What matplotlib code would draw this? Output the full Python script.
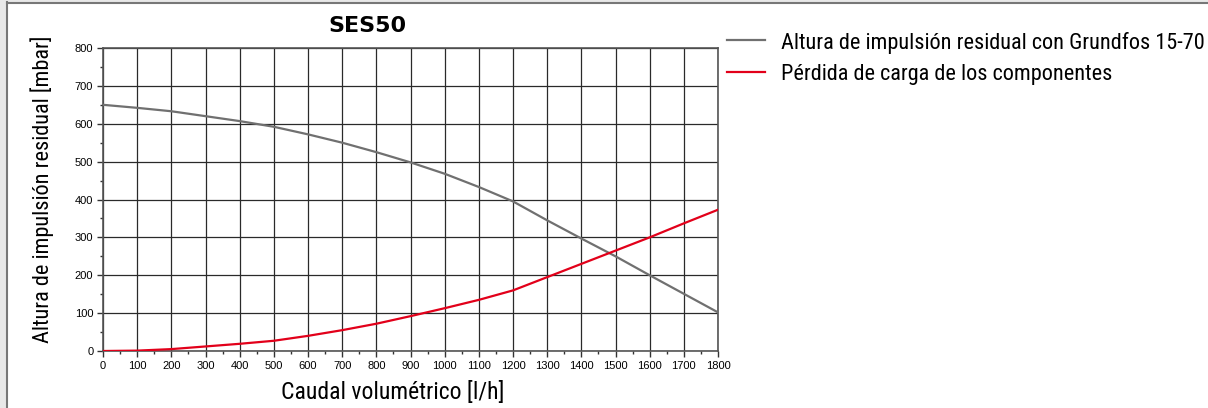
import matplotlib
matplotlib.use("Agg")
import matplotlib.pyplot as plt
from matplotlib.lines import Line2D
from matplotlib.patches import Rectangle
from matplotlib.ticker import MultipleLocator

flow = [0, 100, 200, 300, 400, 500, 600, 700, 800, 900, 1000, 1100, 1200,
        1300, 1400, 1500, 1600, 1700, 1800]
residual_head = [650, 642, 633, 620, 607, 592, 572, 550, 525, 498, 468, 433, 395,
                 345, 297, 250, 200, 151, 102]
pressure_loss = [0, 1, 5, 12, 19, 27, 40, 55, 72, 92, 113, 135, 160,
                 195, 230, 265, 300, 337, 373]

title = "SES50"
xlabel = "Caudal volumétrico [l/h]"
ylabel = "Altura de impulsión residual [mbar]"
series_labels = ["Altura de impulsión residual con Grundfos 15-70",
                 "Pérdida de carga de los componentes"]
series_colors = ['#707070', '#e2001a']

narrow = ['Roboto Condensed', 'Liberation Sans Narrow', 'Roboto', 'DejaVu Sans']

W, H = 1208, 408
fig = plt.figure(figsize=(W / 100, H / 100), dpi=100)
fig.patch.set_facecolor('white')

# frame remnants (left/top border)
fig.patches.append(Rectangle((0, 0), 6 / W, 1, transform=fig.transFigure,
                             facecolor='#e8e8e8', edgecolor='none', zorder=0))
fig.patches.append(Rectangle((0, 1 - 2 / H), 1, 2 / H, transform=fig.transFigure,
                             facecolor='#e8e8e8', edgecolor='none', zorder=0))
fig.lines.append(Line2D([7 / W, 7 / W], [0, 1 - 2 / H], transform=fig.transFigure,
                        color='#777777', lw=1.5))
fig.lines.append(Line2D([7 / W, 1], [1 - 2.5 / H, 1 - 2.5 / H], transform=fig.transFigure,
                        color='#777777', lw=1.5))

ax = fig.add_axes([103 / W, 1 - 351 / H, 615 / W, 303 / H])
ax.plot(flow, residual_head, color=series_colors[0], lw=1.6, zorder=3)
ax.plot(flow, pressure_loss, color=series_colors[1], lw=1.6, zorder=3)

ax.set_xlim(0, 1800)
ax.set_ylim(0, 800)
ax.xaxis.set_major_locator(MultipleLocator(100))
ax.xaxis.set_minor_locator(MultipleLocator(50))
ax.yaxis.set_major_locator(MultipleLocator(100))
ax.yaxis.set_minor_locator(MultipleLocator(50))
ax.grid(True, which='major', color='#2a2a2a', lw=0.9)
ax.set_axisbelow(True)
for s in ax.spines.values():
    s.set_color('#555555')
    s.set_linewidth(1.2)
ax.tick_params(which='major', length=4, width=1, color='#333333',
               labelsize=8, pad=3)
ax.tick_params(which='minor', length=2.5, width=1, color='#333333')
for lab in ax.get_xticklabels() + ax.get_yticklabels():
    lab.set_fontfamily('Liberation Sans')

ax.set_xlabel(xlabel, fontsize=17, family=narrow)
ax.xaxis.set_label_coords((393 - 103) / 615, -(399 - 351) / 303)
ax.xaxis.label.set_verticalalignment('baseline')
ax.set_ylabel(ylabel, fontsize=16, family=narrow)
ax.yaxis.set_label_coords(-(103 - 42) / 615, (351 - 189) / 303)
ax.yaxis.label.set_verticalalignment('center')

fig.text(367 / W, 1 - 26 / H, title, fontsize=16, fontweight='heavy',
         family='DejaVu Sans', ha='center', va='center')

# legend (drawn at figure level, right of the plot)
legend_rows_y = [40, 72]
for lbl, col, yy in zip(series_labels, series_colors, legend_rows_y):
    fig.lines.append(Line2D([727 / W, 765 / W], [1 - yy / H, 1 - yy / H],
                            transform=fig.transFigure, color=col, lw=1.6))
    fig.text(781 / W, 1 - yy / H, lbl, fontsize=16, family=narrow,
             ha='left', va='center_baseline')

fig.savefig("out.png", dpi=100)
